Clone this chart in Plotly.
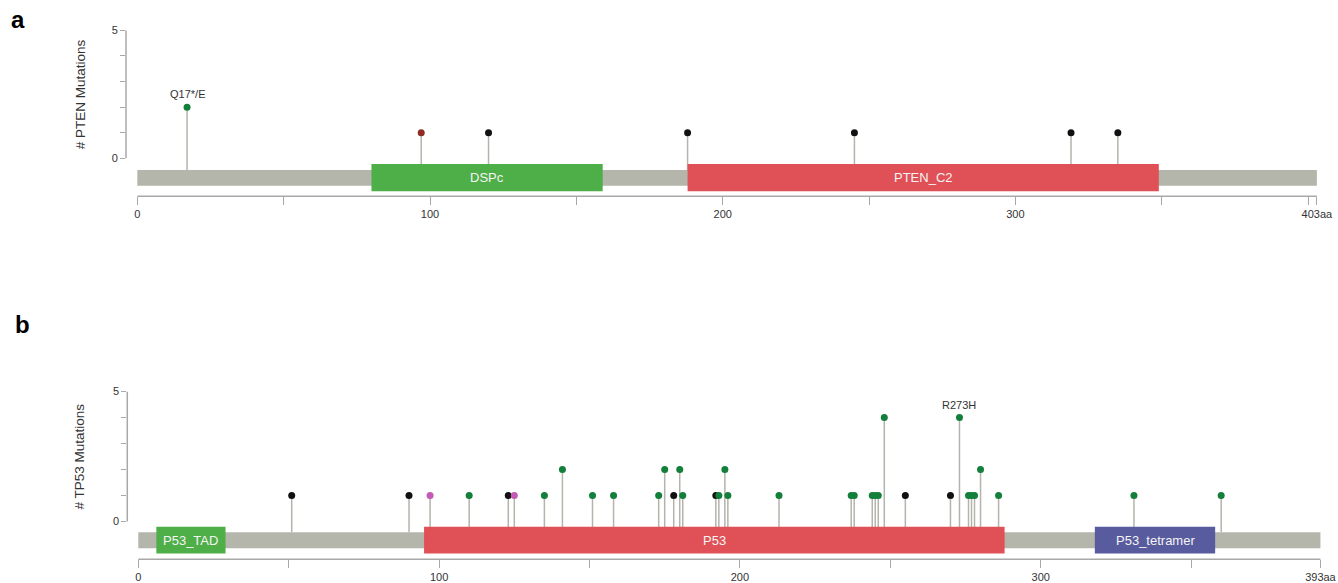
import plotly.graph_objects as go

# ---------------- data ----------------
# PTEN (403 aa)
pten_length = 403
pten_pos = [17, 97, 120, 188, 245, 319, 335]
pten_count = [2, 1, 1, 1, 1, 1, 1]
pten_type = ["Missense", "Inframe", "Truncating", "Truncating", "Truncating", "Truncating", "Truncating"]
pten_domain_names = ["DSPc", "PTEN_C2"]
pten_domain_start = [80, 188]
pten_domain_end = [159, 349]
pten_labels = {17: "Q17*/E"}

# TP53 (393 aa)
tp53_length = 393
tp53_pos = [51, 90, 97, 110, 123, 125, 135, 141, 151, 158, 173, 175, 178, 180, 181,
            192, 193, 195, 196, 213, 237, 238, 244, 245, 246, 248, 255, 270, 273,
            276, 277, 278, 280, 286, 331, 360]
tp53_count = [1, 1, 1, 1, 1, 1, 1, 2, 1, 1, 1, 2, 1, 2, 1,
              1, 1, 2, 1, 1, 1, 1, 1, 1, 1, 4, 1, 1, 4,
              1, 1, 1, 2, 1, 1, 1]
tp53_type = ["Truncating", "Truncating", "Other", "Missense", "Truncating", "Other",
             "Missense", "Missense", "Missense", "Missense", "Missense", "Missense",
             "Truncating", "Missense", "Missense", "Truncating", "Missense", "Missense",
             "Missense", "Missense", "Missense", "Missense", "Missense", "Missense",
             "Missense", "Missense", "Truncating", "Truncating", "Missense", "Missense",
             "Missense", "Missense", "Missense", "Missense", "Missense", "Missense"]
tp53_domain_names = ["P53_TAD", "P53", "P53_tetramer"]
tp53_domain_start = [6, 95, 318]
tp53_domain_end = [29, 288, 358]
tp53_labels = {273: "R273H"}

# ---------------- styling ----------------
W, H = 1338, 583
TYPE_COLORS = {"Missense": "#127f3b", "Truncating": "#111111",
               "Inframe": "#8e2c22", "Other": "#c35ab5"}
DOMAIN_COLORS = {"DSPc": "#4eae48", "PTEN_C2": "#e05157", "P53_TAD": "#4eae48",
                 "P53": "#e05157", "P53_tetramer": "#585b9e"}
BACKBONE = "#b5b6ab"
STEM = "#b4b4ac"
AXIS = "#a8a8a8"
FONT = "Liberation Sans, Arial, sans-serif"
TICKFONT = dict(family=FONT, size=11, color="#333333")

fig = go.Figure()

# panel geometry: pixel positions of the plot areas
panels = [
    dict(xa="x", ya="y", left_px=126.0, aa0_px=137.3, px_per_aa=2.927,
         top_px=25.0, zero_px=160.0, px_per_unit=25.86, bottom_px=198.3,
         bb=(-0.452, -1.071), box=(-0.220, -1.288),
         length=pten_length, pos=pten_pos, count=pten_count, types=pten_type,
         dnames=pten_domain_names, dstart=pten_domain_start, dend=pten_domain_end,
         labels=pten_labels, title="# PTEN Mutations", letter="a", letter_y=20),
    dict(xa="x2", ya="y2", left_px=127.3, aa0_px=138.3, px_per_aa=3.008,
         top_px=388.0, zero_px=527.0, px_per_unit=26.26, bottom_px=565.0,
         bb=(-0.407, -1.028), box=(-0.202, -1.230),
         length=tp53_length, pos=tp53_pos, count=tp53_count, types=tp53_type,
         dnames=tp53_domain_names, dstart=tp53_domain_start, dend=tp53_domain_end,
         labels=tp53_labels, title="# TP53 Mutations", letter="b", letter_y=328),
]

layout_axes = {}
shapes = []
annotations = []

for i, p in enumerate(panels):
    xa, ya = p["xa"], p["ya"]
    xname = "xaxis" if xa == "x" else "xaxis2"
    yname = "yaxis" if ya == "y" else "yaxis2"

    x_lo = (p["left_px"] - p["aa0_px"]) / p["px_per_aa"]
    x_hi = (W - p["aa0_px"]) / p["px_per_aa"]
    y_lo = -(p["bottom_px"] - p["zero_px"]) / p["px_per_unit"]
    y_hi = (p["zero_px"] - p["top_px"]) / p["px_per_unit"]

    length = p["length"]
    xt = list(range(0, length + 1, 50))
    if xt[-1] != length:
        xt.append(length)
    xtext = [str(v) if v % 100 == 0 and v < length - 10 else "" for v in xt]
    xtext[-1] = f"{length}aa"

    layout_axes[xname] = dict(
        domain=[p["left_px"] / W, 1.0], range=[x_lo, x_hi], anchor=ya,
        showgrid=False, zeroline=False, showline=False,
        ticks="outside", ticklen=8, tickwidth=1, tickcolor=AXIS,
        tickvals=xt, ticktext=xtext, tickfont=TICKFONT, fixedrange=True,
    )
    layout_axes[yname] = dict(
        domain=[1 - p["bottom_px"] / H, 1 - p["top_px"] / H], range=[y_lo, y_hi],
        anchor=xa, showgrid=False, zeroline=False, showline=False,
        ticks="outside", ticklen=5, tickwidth=1, tickcolor=AXIS,
        tickvals=[0, 1, 2, 3, 4, 5], ticktext=["0", "", "", "", "", "5"],
        tickfont=TICKFONT, fixedrange=True,
    )

    # axis lines
    shapes.append(dict(type="line", xref=xa, yref=f"{ya} domain", x0=0, x1=length,
                       y0=0, y1=0, line=dict(color=AXIS, width=1.5), layer="above"))
    shapes.append(dict(type="line", xref=f"{xa} domain", yref=ya, x0=0, x1=0,
                       y0=0, y1=5, line=dict(color=AXIS, width=1.5), layer="above"))

    # protein backbone
    shapes.append(dict(type="rect", xref=xa, yref=ya, x0=0, x1=length,
                       y0=p["bb"][1], y1=p["bb"][0], fillcolor=BACKBONE,
                       line=dict(width=0), layer="below"))
    # domains
    for name, s, e in zip(p["dnames"], p["dstart"], p["dend"]):
        shapes.append(dict(type="rect", xref=xa, yref=ya, x0=s, x1=e,
                           y0=p["box"][1], y1=p["box"][0],
                           fillcolor=DOMAIN_COLORS[name], line=dict(width=0),
                           layer="above"))
        annotations.append(dict(xref=xa, yref=ya, x=(s + e) / 2,
                                y=(p["box"][0] + p["box"][1]) / 2, text=name,
                                showarrow=False,
                                font=dict(family=FONT, size=13, color="#f4f4f4")))

    # lollipop stems
    sx, sy = [], []
    for pos, c in zip(p["pos"], p["count"]):
        sx += [pos, pos, None]
        sy += [p["bb"][0], c, None]
    fig.add_trace(go.Scatter(x=sx, y=sy, mode="lines", xaxis=xa, yaxis=ya,
                             line=dict(color=STEM, width=1.5), hoverinfo="skip",
                             showlegend=False))
    # lollipop heads
    fig.add_trace(go.Scatter(x=p["pos"], y=p["count"], mode="markers", xaxis=xa,
                             yaxis=ya, showlegend=False,
                             marker=dict(size=7, color=[TYPE_COLORS[t] for t in p["types"]],
                                         line=dict(width=0)),
                             cliponaxis=False))

    for pos, txt in p["labels"].items():
        c = p["count"][p["pos"].index(pos)]
        annotations.append(dict(xref=xa, yref=ya, x=pos, y=c, text=txt,
                                showarrow=False, yanchor="bottom", yshift=5,
                                font=dict(family=FONT, size=11, color="#333333")))

    # y-axis title centred on the 0..5 scale
    annotations.append(dict(xref="paper", yref=ya, x=80 / W, y=2.5, text=p["title"],
                            textangle=-90, showarrow=False, xanchor="center",
                            yanchor="middle",
                            font=dict(family=FONT, size=13.5, color="#333333")))
    # panel letter
    annotations.append(dict(xref="paper", yref="paper", x=(18 if i == 0 else 22) / W,
                            y=1 - p["letter_y"] / H, text=f"<b>{p['letter']}</b>",
                            showarrow=False, xanchor="center", yanchor="middle",
                            font=dict(family=FONT, size=24, color="#000000")))

fig.update_layout(
    width=W, height=H, margin=dict(l=0, r=0, t=0, b=0),
    paper_bgcolor="white", plot_bgcolor="white",
    shapes=shapes, annotations=annotations, showlegend=False,
    **layout_axes,
)

fig.write_html("out.html", config={"displayModeBar": False})
